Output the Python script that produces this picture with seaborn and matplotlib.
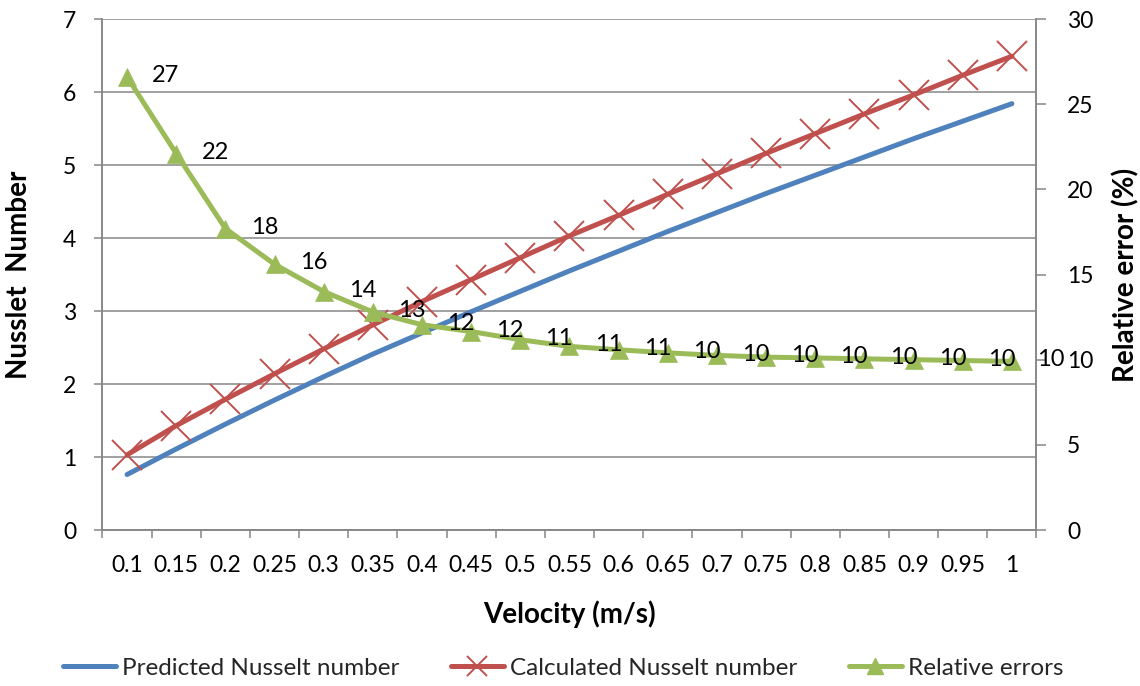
import matplotlib
matplotlib.use("Agg")
import matplotlib.pyplot as plt
import numpy as np
import pandas as pd
import seaborn as sns
from matplotlib.lines import Line2D

# ---- data ----
velocity = ["0.1", "0.15", "0.2", "0.25", "0.3", "0.35", "0.4", "0.45", "0.5", "0.55",
            "0.6", "0.65", "0.7", "0.75", "0.8", "0.85", "0.9", "0.95", "1"]
predicted_nu = [0.76, 1.11, 1.45, 1.78, 2.10, 2.41, 2.70, 2.99, 3.27, 3.55,
                3.82, 4.09, 4.35, 4.61, 4.86, 5.11, 5.36, 5.60, 5.84]
calculated_nu = [1.03, 1.43, 1.79, 2.14, 2.48, 2.81, 3.13, 3.43, 3.73, 4.03,
                 4.31, 4.60, 4.88, 5.16, 5.43, 5.70, 5.96, 6.23, 6.49]
relative_error = [26.6, 22.1, 17.7, 15.6, 14.0, 12.8, 12.05, 11.65, 11.17, 10.78,
                  10.58, 10.4, 10.25, 10.15, 10.1, 10.05, 10.0, 9.95, 9.9]

left_ticks = [0, 1, 2, 3, 4, 5, 6, 7]
right_ticks = [0, 5, 10, 15, 20, 25, 30]

BLUE = "#4F81BD"
RED = "#C0504D"
GREEN = "#9BBB59"
GRID = "#868686"

sns.set_theme(style="white")
plt.rcParams["font.family"] = ["Lato", "DejaVu Sans"]

df = pd.DataFrame({
    "pos": np.arange(len(velocity)),
    "velocity": velocity,
    "predicted": predicted_nu,
    "calculated": calculated_nu,
    "error": relative_error,
})

fig = plt.figure(figsize=(11.4, 6.86), dpi=100)
ax = fig.add_axes([0.0899, 0.2274, 0.8193, 0.7449])
ax2 = ax.twinx()

sns.lineplot(data=df, x="pos", y="predicted", ax=ax, color=BLUE, linewidth=3.6,
             solid_capstyle="round", legend=False, zorder=3)
sns.lineplot(data=df, x="pos", y="calculated", ax=ax, color=RED, linewidth=3.6,
             marker="x", markersize=21, markeredgewidth=1.4, markeredgecolor=RED,
             solid_capstyle="round", legend=False, zorder=4)
sns.lineplot(data=df, x="pos", y="error", ax=ax2, color=GREEN, linewidth=3.6,
             marker="^", markersize=13, markeredgewidth=0.5, markeredgecolor=GREEN,
             markerfacecolor=GREEN, solid_capstyle="round", legend=False, zorder=5)

# data labels on relative error
for i, v in enumerate(relative_error):
    ax2.annotate(f"{v:.0f}", (df["pos"][i], v), xytext=(28, 1), textcoords="offset points",
                 ha="center", va="center", fontsize=17, color="black",
                 annotation_clip=False, zorder=6)

n = len(velocity)
ax.set_xlim(-0.5, n - 0.5)
ax.set_ylim(0, 7)
ax2.set_ylim(0, 30)

# x axis: tick marks on category boundaries, labels at centers
ax.set_xticks(np.arange(-0.5, n, 1.0))
ax.set_xticklabels([])
ax.set_xticks(np.arange(n), minor=True)
ax.set_xticklabels(velocity, minor=True)
ax.tick_params(axis="x", which="major", direction="out", length=6, width=1.1,
               color=GRID, bottom=True)
ax.tick_params(axis="x", which="minor", length=0, pad=18, labelsize=16.5, labelcolor="black")

ax.set_yticks(left_ticks)
ax.tick_params(axis="y", direction="out", length=6, width=1.1, color=GRID, left=True,
               pad=13, labelsize=16.5, labelcolor="black")
ax2.set_yticks(right_ticks)
ax2.tick_params(axis="y", direction="out", length=7, width=1.1, color=GRID, right=True,
                pad=15, labelsize=16.5, labelcolor="black")

ax.yaxis.grid(True, color=GRID, linewidth=1.1)
ax.xaxis.grid(False)
ax2.grid(False)
ax.set_axisbelow(True)

for a in (ax, ax2):
    for s in a.spines.values():
        s.set_color(GRID)
        s.set_linewidth(1.1)
    a.spines["top"].set_visible(False)

ax.set_xlabel("Velocity (m/s)", fontsize=20, fontweight="bold", color="black")
ax.xaxis.set_label_coords(0.5, -0.137)
ax.set_ylabel("Nusslet  Number", fontsize=20, fontweight="bold", color="black")
ax.yaxis.set_label_coords(-0.0755, 0.5)
ax2.set_ylabel("Relative error (%)", fontsize=20, fontweight="bold", color="black",
               rotation=90)
ax2.yaxis.set_label_coords(1.0815, 0.5)

handles = [
    Line2D([], [], color=BLUE, linewidth=3.6, solid_capstyle="round"),
    Line2D([], [], color=RED, linewidth=3.6, marker="x", markersize=14, markeredgewidth=1.4),
    Line2D([], [], color=GREEN, linewidth=3.6, marker="^", markersize=12),
]
labels = ["Predicted Nusselt number", "Calculated Nusselt number", "Relative errors"]
fig.legend(handles, labels, loc="center", bbox_to_anchor=(0.494, 1 - 668 / 686), ncol=3,
           frameon=False, fontsize=17.5, handlelength=2.2, handletextpad=0.25,
           columnspacing=2.1)

fig.savefig("out.png", dpi=100)
